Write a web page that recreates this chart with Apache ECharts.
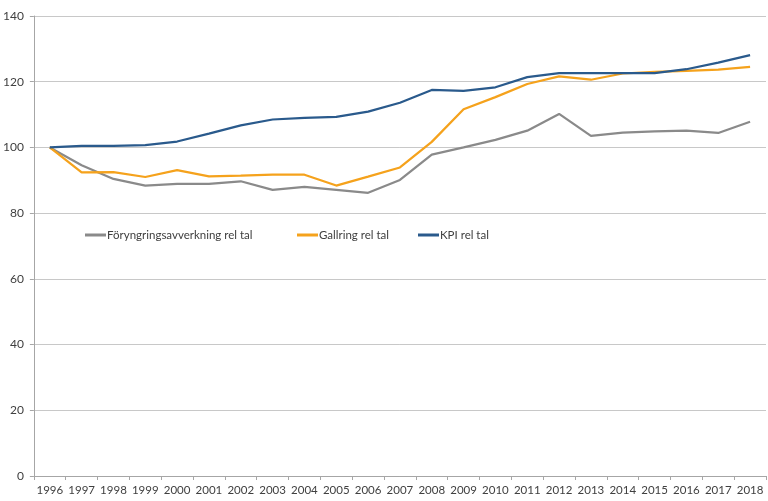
<!DOCTYPE html>
<html><head><meta charset="utf-8">
<script src="https://cdn.jsdelivr.net/npm/echarts@6/dist/echarts.min.js"></script>
<style>html,body{margin:0;padding:0;background:#fff}#c{width:768px;height:501px}</style>
</head><body><div id="c"></div>
<script>
const years = ['1996','1997','1998','1999','2000','2001','2002','2003','2004','2005','2006','2007','2008','2009','2010','2011','2012','2013','2014','2015','2016','2017','2018'];
const foryngring = [100,94.6,90.4,88.4,88.9,88.9,89.7,87.1,88.0,87.1,86.2,90.1,97.8,100.0,102.3,105.1,110.2,103.5,104.5,104.9,105.1,104.4,107.8];
const gallring = [100,92.4,92.5,91.0,93.1,91.2,91.4,91.7,91.7,88.4,91.1,93.9,101.7,111.6,115.3,119.3,121.6,120.6,122.5,123.0,123.3,123.7,124.5];
const kpi = [100,100.5,100.5,100.7,101.8,104.2,106.7,108.5,109.0,109.3,110.9,113.6,117.5,117.2,118.3,121.4,122.6,122.6,122.6,122.6,123.8,125.8,128.1];
const names = ['Föryngringsavverkning rel tal','Gallring rel tal','KPI rel tal'];
const colors = ['#8a8a8a','#f5a21c','#2a5a8c'];
const font = 'Lato';
const legendLeft = [85, 297, 418];
const chart = echarts.init(document.getElementById('c'));
const mk = (i, d) => ({name: names[i], type: 'line', data: d, symbol: 'none', lineStyle: {width: 2.25, color: colors[i]}, itemStyle: {color: colors[i]}, animation: false});
chart.setOption({
  animation: false,
  grid: {left: 32, right: 2, top: 16, bottom: 25, containLabel: false},
  legend: names.map((n, i) => ({
    left: legendLeft[i], top: 229, padding: 0, itemWidth: 21, itemHeight: 3, itemGap: 0,
    icon: 'rect',
    textStyle: {fontFamily: font, fontSize: 11.5, color: '#404040', padding: [0,0,0,-4]},
    data: [n]
  })),
  xAxis: {
    type: 'category', data: years, boundaryGap: true,
    axisLine: {lineStyle: {color: '#a6a6a6', width: 1}},
    axisTick: {show: true, length: 4, lineStyle: {color: '#a6a6a6'}},
    axisLabel: {fontFamily: font, fontSize: 11.5, color: '#404040', margin: 8, interval: 0}
  },
  yAxis: {
    type: 'value', min: 0, max: 140, interval: 20,
    axisLine: {show: true, lineStyle: {color: '#a6a6a6'}},
    axisTick: {show: true, length: 4, lineStyle: {color: '#a6a6a6'}},
    splitLine: {lineStyle: {color: '#c8c8c8', width: 1}},
    axisLabel: {fontFamily: font, fontSize: 12, color: '#404040', margin: 10}
  },
  series: [mk(0, foryngring), mk(1, gallring), mk(2, kpi)]
});
</script></body></html>
